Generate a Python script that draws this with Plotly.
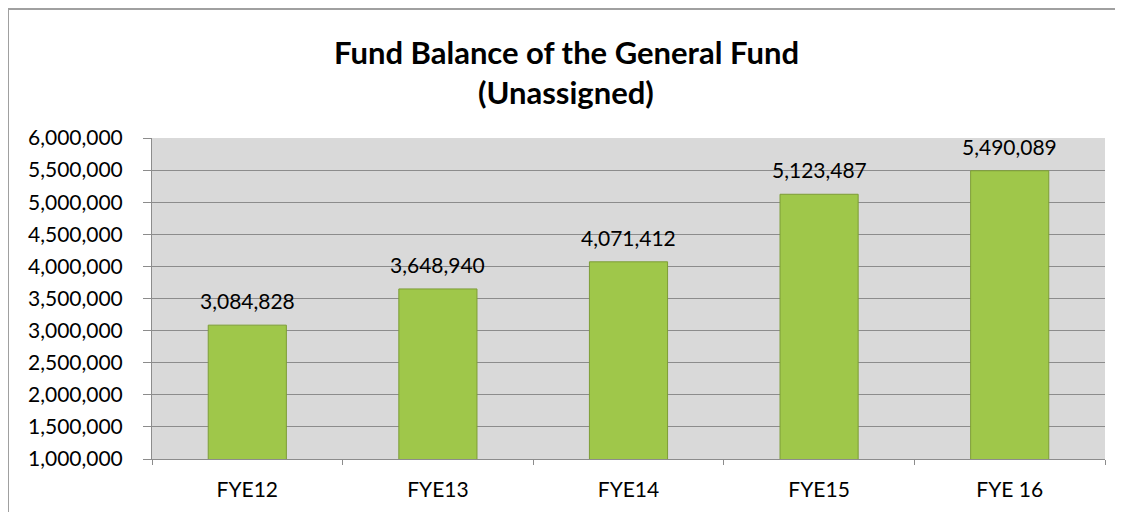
import plotly.graph_objects as go

categories = ["FYE12", "FYE13", "FYE14", "FYE15", "FYE 16"]
values = [3084828, 3648940, 4071412, 5123487, 5490089]
labels = ["3,084,828", "3,648,940", "4,071,412", "5,123,487", "5,490,089"]

# page body has an 8px offset; size figure so plot area lands where the reference has it
W, H = 1115, 504
ml, mr, mt, mb = 144, 18, 130, 53
pw, ph = W - ml - mr, H - mt - mb

font = "Lato"
fs = 21

fig = go.Figure()
fig.add_trace(go.Bar(
    x=categories, y=values,
    marker=dict(color="#9fc74a", line=dict(color="#7d9d36", width=1)),
    width=0.41,
))

annotations = [
    dict(x=c, y=v, text=t, xref="x", yref="y", showarrow=False,
         xanchor="center", yanchor="bottom", yshift=10,
         font=dict(family=font, size=fs, color="#000000"))
    for c, v, t in zip(categories, values, labels)
]
annotations += [
    dict(text="<b>Fund Balance of the General Fund</b>", xref="paper", yref="paper",
         x=(558 - ml) / pw, y=(H - mb - 44) / ph, showarrow=False,
         xanchor="center", yanchor="middle",
         font=dict(family=font, size=31, color="#000000")),
    dict(text="<b>(Unassigned)</b>", xref="paper", yref="paper",
         x=(558 - ml) / pw, y=(H - mb - 84) / ph, showarrow=False,
         xanchor="center", yanchor="middle",
         font=dict(family=font, size=31, color="#000000")),
]

fig.update_layout(
    width=W, height=H,
    margin=dict(l=ml, r=mr, t=mt, b=mb),
    paper_bgcolor="white", plot_bgcolor="#d9d9d9",
    showlegend=False,
    font=dict(family=font, size=fs, color="#000000"),
    xaxis=dict(
        type="category", range=[-0.5, 4.5],
        showline=True, linecolor="#8c8c8c", linewidth=1,
        ticks="outside", tickson="boundaries", ticklen=5, tickcolor="#8c8c8c",
        ticklabelstandoff=12,
        showgrid=False,
        tickfont=dict(family=font, size=fs, color="#000000"),
    ),
    yaxis=dict(
        range=[1000000, 6000000], dtick=500000, tick0=1000000,
        tickformat=",", showline=True, linecolor="#8c8c8c", linewidth=1,
        ticks="outside", ticklen=8, tickcolor="#8c8c8c",
        ticklabelstandoff=16,
        showgrid=True, gridcolor="#8c8c8c", gridwidth=1,
        zeroline=False,
        tickfont=dict(family=font, size=fs, color="#000000"),
    ),
    shapes=[dict(
        type="rect", xref="paper", yref="paper",
        x0=(0 - ml) / pw, x1=(W + 10 - ml) / pw,
        y0=-0.4, y1=(H - mb - 1) / ph,
        line=dict(color="#a0a0a0", width=2), fillcolor="rgba(0,0,0,0)",
        layer="below",
    )],
    annotations=annotations,
)

fig.write_html("out.html")
